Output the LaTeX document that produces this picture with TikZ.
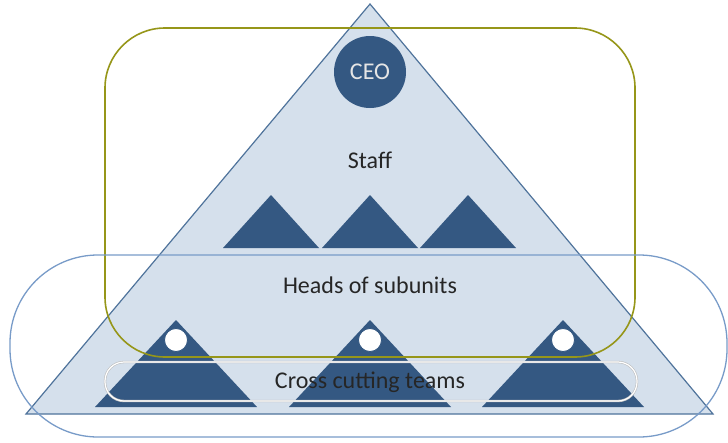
\documentclass[tikz,border=0pt]{standalone}
\usepackage{fontspec}
\setmainfont{Carlito}
\usetikzlibrary{calc}

\definecolor{paleblue}{RGB}{213,224,236}
\definecolor{edgeblue}{RGB}{79,115,155}
\definecolor{darkblue}{RGB}{52,88,130}
\definecolor{olivegreen}{RGB}{150,150,25}
\definecolor{ringblue}{RGB}{120,155,200}

\begin{document}
\begin{tikzpicture}[x=1pt,y=-1pt,
  thick,
  unit tri/.style={fill=darkblue,draw=none},
  head dot/.style={circle,fill=white,draw=darkblue,line width=0.8pt,minimum size=23pt,inner sep=0pt},
  label text/.style={font=\fontsize{24}{27}\selectfont,text=black!85}]

\useasboundingbox (0,0) rectangle (728,442);

% big pyramid
\draw[fill=paleblue,draw=edgeblue,line width=1.2pt] (370,4) -- (713,414) -- (26,414) -- cycle;

% staff units
\foreach \cx in {271,370,468}
  \fill[unit tri] (\cx-48,248) -- (\cx,195) -- (\cx+48,248) -- cycle;

% subunits with their heads
\foreach \cx/\nm in {176/L,370/M,563/R}{
  \fill[unit tri] (\cx-81,407) -- (\cx,320) -- (\cx+81,407) -- cycle;
  \node[head dot](H\nm) at (\cx,340) {};
}

\node[circle,fill=darkblue,minimum size=72pt,inner sep=0pt,
  font=\fontsize{24}{27}\selectfont,text=white!90!black](CEO) at (370,72) {CEO};

% groupings
\draw[olivegreen,line width=1.6pt,rounded corners=60pt] (105,28) rectangle (635,357);
\draw[ringblue,line width=1.3pt,rounded corners=88pt] (10,255) rectangle (727,437);
\draw[black!25,line width=2.4pt,rounded corners=19pt] (105,362) rectangle (637,401);
\draw[white,line width=1.2pt,rounded corners=19pt] (105,362) rectangle (637,401);

\node[label text](S) at (370,160) {Staff};
\node[label text](HS) at (370,285) {Heads of subunits};
\node[label text](CT) at (370,382) {Cross cutting teams};

\end{tikzpicture}
\end{document}
